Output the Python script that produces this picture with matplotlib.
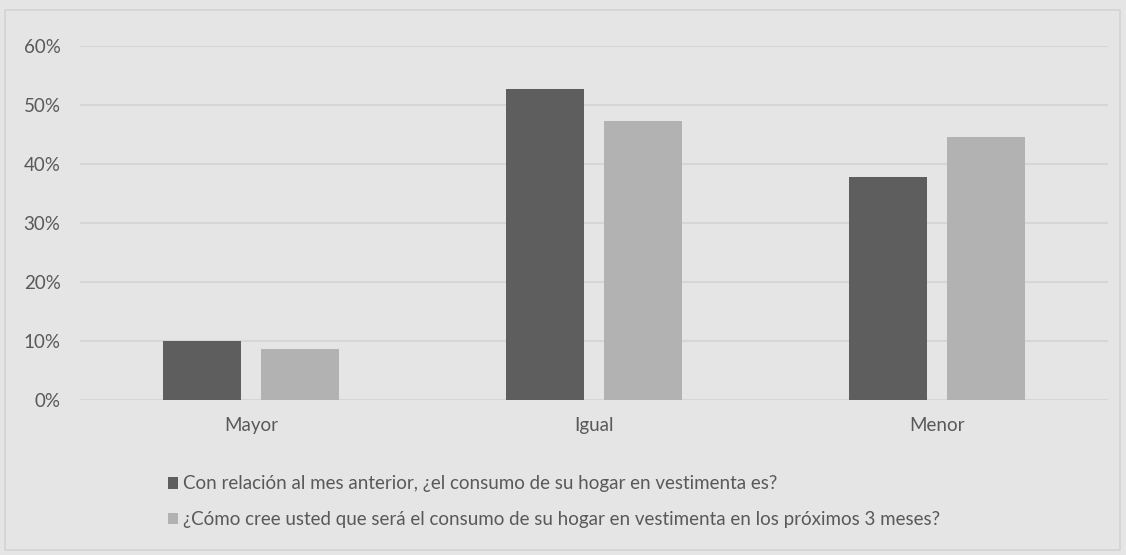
import matplotlib
matplotlib.use("Agg")
import matplotlib.pyplot as plt
import numpy as np
from matplotlib.patches import Rectangle

categories = ["Mayor", "Igual", "Menor"]
series_names = [
    "Con relación al mes anterior, ¿el consumo de su hogar en vestimenta es?",
    "¿Cómo cree usted que será el consumo de su hogar en vestimenta en los próximos 3 meses?",
]
actual = [10.0, 52.7, 37.8]
expected = [8.6, 47.3, 44.6]
yticks = [0, 10, 20, 30, 40, 50, 60]

bg = "#e5e5e5"
txt = "#595959"
plt.rcParams['font.family'] = ['Lato', 'DejaVu Sans']

fig = plt.figure(figsize=(11.26, 5.55), dpi=100, facecolor=bg)
border = Rectangle((5/1126, 5/555), 1115/1126, 540/555, transform=fig.transFigure,
                   facecolor="none", edgecolor="#d4d4d4", linewidth=1.2, zorder=-5)
fig.patches.append(border)
ax = fig.add_axes([80/1126, 1-400/555, 1028/1126, 354/555])
ax.set_facecolor(bg)

x = np.arange(len(categories))
w = 0.227
b1 = ax.bar(x - 0.143, actual, w, color="#5e5e5e", zorder=3, label=series_names[0])
b2 = ax.bar(x + 0.143, expected, w, color="#b2b2b2", zorder=3, label=series_names[1])

ax.set_xlim(-0.5, 2.5)
ax.set_ylim(0, 60)
ax.set_yticks(yticks)
ax.set_yticklabels([f"{v}%" for v in yticks])
ax.set_xticks(x)
ax.set_xticklabels(categories)
ax.grid(axis="y", color="#d6d6d6", linewidth=1.5, zorder=0)
for s in ax.spines.values():
    s.set_visible(False)
ax.tick_params(axis="both", length=0, colors=txt, labelsize=13.5)
ax.tick_params(axis="y", pad=14)
ax.tick_params(axis="x", pad=12)

leg = fig.legend(handles=[b1, b2], loc="upper left", bbox_to_anchor=(160/1126, 1-468/555),
                 frameon=False, fontsize=13.5, labelcolor=txt, handlelength=0.55, handleheight=0.55,
                 handletextpad=0.3, labelspacing=1.0, borderaxespad=0)

fig.savefig("out.png", dpi=100, facecolor=bg)
